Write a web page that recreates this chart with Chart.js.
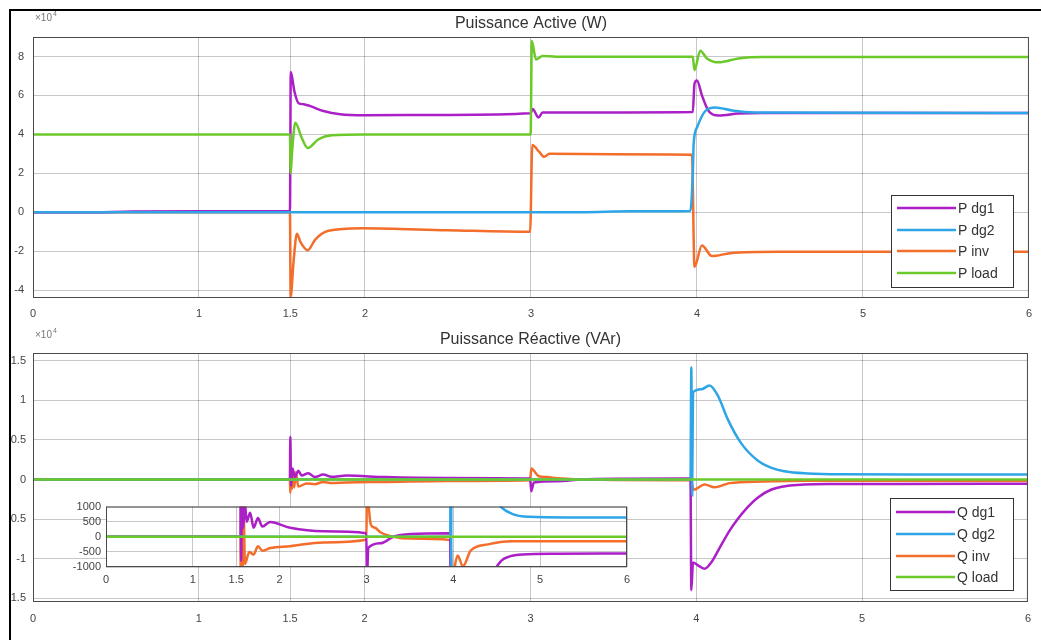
<!DOCTYPE html>
<html lang="fr">
<head>
<meta charset="UTF-8">
<title>Puissance Active / Réactive</title>
<script src="https://cdn.jsdelivr.net/npm/chart.js"></script>
<style>
    body { margin: 0; background: #fff; width: 1041px; height: 640px; overflow: hidden; position: relative; }
    canvas { position: absolute; }
    #topChart { left: 0; top: 0; }
    #botChart { left: 0; top: 320px; }
    #insetChart { left: 60px; top: 495px; }
    #edge { position: absolute; left: 0; top: 0; width: 9px; height: 640px; background: #fff; }
    #frame { position: absolute; left: 9px; top: 9px; width: 1100px; height: 700px; border-left: 2px solid #000; border-top: 2px solid #000; }
</style>
</head>
<body>
<canvas id="topChart" width="1041" height="320"></canvas>
<canvas id="botChart" width="1041" height="320"></canvas>
<canvas id="insetChart" width="580" height="100"></canvas>
<div id="edge"></div>
<div id="frame"></div>

<script>
// axes
const xTickValues = [0, 1, 1.55, 2, 3, 4, 5, 6];   // the "1.5" grid line sits at the first event
const xTickLabels = ['0', '1', '1.5', '2', '3', '4', '5', '6'];
const insetXTicks = [0, 1, 1.5, 2, 3, 4, 5, 6];
const pTicks = [-40000, -20000, 0, 20000, 40000, 60000, 80000];
const qTicks = [-15000, -10000, -5000, 0, 5000, 10000, 15000];
const insetYTicks = [-1000, -500, 0, 500, 1000];

const colors = ['#ab1fc6', '#2ea5e6', '#f36d2b', '#6cc92a'];
const drawOrder = [2, 1, 3, 0];   // lower = drawn later (on top)
const pLabels = ['P dg1', 'P dg2', 'P inv', 'P load'];
const qLabels = ['Q dg1', 'Q dg2', 'Q inv', 'Q load'];

// Puissance active (W)
const pDg1T = [0, 0.3, 0.6, 1.0, 1.548, 1.553, 1.575, 1.6, 1.63, 1.67, 1.75, 1.85, 2.0, 2.5, 2.998, 3.01, 3.045, 3.07, 3.5, 3.975, 3.985, 4.0, 4.03, 4.07, 4.13, 4.25, 4.4, 6];
const pDg1V = [0, 0, 400, 600, 600, 72000, 62000, 56000, 55500, 54500, 52000, 50300, 49800, 50000, 50800, 53000, 48700, 51200, 51300, 51500, 66000, 67700, 60000, 52000, 49700, 50700, 51000, 51000];
const pDg2T = [0, 3.3, 3.6, 3.96, 3.975, 3.98, 4.0, 4.05, 4.11, 4.21, 4.35, 6];
const pDg2V = [0, 0, 500, 700, 20000, 35000, 43500, 52000, 53800, 52300, 51300, 51000];
const pInvT = [0, 1.548, 1.552, 1.57, 1.59, 1.61, 1.655, 1.7, 1.78, 1.98, 2.5, 2.995, 3.008, 3.05, 3.08, 3.11, 3.5, 3.97, 3.985, 4.03, 4.09, 4.2, 4.5, 6];
const pInvV = [0, 0, -43500, -25000, -11000, -15000, -19500, -14000, -9500, -8200, -9200, -10000, 34500, 31000, 28500, 30000, 29800, 29600, -28000, -17000, -22500, -21000, -20300, -20300];
const pLoadT = [0, 1.548, 1.552, 1.56, 1.58, 1.62, 1.655, 1.72, 1.8, 2.0, 2.998, 3.005, 3.03, 3.07, 3.2, 3.975, 3.985, 4.02, 4.06, 4.13, 4.25, 4.4, 6];
const pLoadV = [40000, 40000, 20000, 30000, 46000, 38000, 33000, 37500, 39500, 40000, 40000, 88000, 78500, 80200, 79800, 79800, 73000, 83000, 79000, 77000, 79000, 79700, 79700];

// Puissance réactive (VAr)
const qDg1T = [0, 1.549, 1.552, 1.556, 1.565, 1.58, 1.6, 1.62, 1.66, 1.7, 1.75, 1.8, 1.89, 2.12, 2.5, 2.998, 3.005, 3.02, 3.16, 3.31, 3.51, 3.965, 3.97, 3.98, 4.02, 4.05, 4.09, 4.15, 4.2, 4.25, 4.31, 4.37, 4.45, 4.55, 4.65, 4.8, 5.2, 6];
const qDg1V = [0, 0, 5400, -800, 1400, 300, 1100, 500, 800, 300, 620, 340, 490, 300, 185, 120, -1500, -370, -215, 0, 90, 120, -14000, -10500, -11000, -11300, -10500, -8300, -6500, -5000, -3500, -2300, -1300, -800, -650, -585, -560, -550];
const qDg2T = [0, 3.965, 3.97, 3.975, 3.98, 4.03, 4.08, 4.13, 4.19, 4.27, 4.37, 4.45, 4.53, 4.67, 4.87, 5.3, 6];
const qDg2V = [0, 0, 14200, -2000, 11000, 11400, 11900, 10600, 7600, 4600, 2400, 1500, 1050, 770, 660, 640, 640];
const qInvT = [0, 1.549, 1.552, 1.556, 1.562, 1.568, 1.575, 1.585, 1.6, 1.65, 1.7, 1.75, 1.8, 1.89, 2.12, 2.5, 2.998, 3.005, 3.05, 3.1, 3.16, 3.31, 3.51, 3.965, 3.985, 4.05, 4.11, 4.2, 4.4, 4.67, 6];
const qInvV = [0, 0, -1700, 1500, -1200, 1100, -1000, 900, -900, -500, -590, -310, -460, -370, -310, -185, -100, 1400, 400, 300, 150, 0, -60, -110, -1300, -620, -980, -460, -250, -150, -150];
const qLoadT = [0, 6];
const qLoadV = [0, 0];

const pSeries = [[pDg1T, pDg1V], [pDg2T, pDg2V], [pInvT, pInvV], [pLoadT, pLoadV]];
const qSeries = [[qDg1T, qDg1V], [qDg2T, qDg2V], [qInvT, qInvV], [qLoadT, qLoadV]];

const FONT = '"Liberation Sans", Arial, sans-serif';
Chart.defaults.font.family = FONT;
Chart.defaults.color = '#444';

function toPoints(t, v) {
    return t.map((x, i) => ({ x: x, y: v[i] }));
}

function makeDatasets(series, labels, width) {
    return series.map((s, i) => ({
        label: labels[i],
        data: toPoints(s[0], s[1]),
        borderColor: colors[i],
        backgroundColor: colors[i],
        borderWidth: width,
        pointRadius: 0,
        cubicInterpolationMode: 'monotone',
        order: drawOrder[i]
    }));
}

// box around the axes, titles, x10^4, legend
const panelDeco = {
    id: 'panelDeco',
    beforeDraw(chart, args, o) {
        if (o.fillArea) {
            const a = chart.chartArea;
            chart.ctx.save();
            chart.ctx.fillStyle = '#fff';
            chart.ctx.fillRect(a.left, a.top, a.right - a.left, a.bottom - a.top);
            chart.ctx.restore();
        }
    },
    afterDraw(chart, args, o) {
        const ctx = chart.ctx, a = chart.chartArea;
        ctx.save();
        ctx.strokeStyle = '#4a4a4a';
        ctx.lineWidth = 1;
        ctx.strokeRect(a.left + 0.5, a.top + 0.5, a.right - a.left - 1, a.bottom - a.top - 1);

        if (o.title) {
            ctx.fillStyle = '#333';
            ctx.font = '16px ' + FONT;
            ctx.textAlign = 'center';
            ctx.textBaseline = 'middle';
            ctx.fillText(o.title, (a.left + a.right) / 2, o.titleY);
            ctx.fillStyle = '#777';
            ctx.textAlign = 'left';
            ctx.font = '10px ' + FONT;
            ctx.fillText('×10', a.left + 2, o.expY);
            ctx.font = '7px ' + FONT;
            ctx.fillText('4', a.left + 20, o.expY - 4);
        }

        if (o.legend) {
            const L = o.legend;
            ctx.fillStyle = '#fff';
            ctx.fillRect(L.x, L.y, L.w, L.h);
            ctx.strokeStyle = '#333';
            ctx.strokeRect(L.x + 0.5, L.y + 0.5, L.w, L.h);
            ctx.font = '14px ' + FONT;
            ctx.textAlign = 'left';
            ctx.textBaseline = 'middle';
            chart.data.datasets.forEach((ds, i) => {
                const y = L.y + L.rows[i];
                ctx.strokeStyle = ds.borderColor;
                ctx.lineWidth = 2.5;
                ctx.beginPath();
                ctx.moveTo(L.x + 6, y);
                ctx.lineTo(L.x + 65, y);
                ctx.stroke();
                ctx.fillStyle = '#333';
                ctx.fillText(ds.label, L.x + 67, y + 1);
            });
        }
        ctx.restore();
    }
};

function panelOptions(cfg) {
    return {
        responsive: false,
        animation: false,
        events: [],
        layout: { padding: cfg.padding },
        plugins: {
            legend: { display: false },
            tooltip: { enabled: false },
            panelDeco: cfg.deco
        },
        scales: {
            x: {
                type: 'linear', min: 0, max: 6,
                afterBuildTicks: axis => { axis.ticks = cfg.xTicks.map(v => ({ value: v })); },
                afterFit: scale => { scale.height = cfg.xHeight; },
                grid: { color: 'rgba(0,0,0,0.22)', drawTicks: false },
                border: { display: false },
                ticks: {
                    autoSkip: false, maxRotation: 0, padding: cfg.xPad,
                    font: { size: cfg.tickSize },
                    callback: (v, i) => cfg.xLabels[i]
                }
            },
            y: {
                min: cfg.yMin, max: cfg.yMax,
                afterBuildTicks: axis => { axis.ticks = cfg.yTicks.map(v => ({ value: v })); },
                afterFit: scale => { scale.width = cfg.yWidth; },
                grid: { color: 'rgba(0,0,0,0.22)', drawTicks: false },
                border: { display: false },
                ticks: {
                    autoSkip: false,
                    padding: cfg.yPad,
                    font: { size: cfg.tickSize },
                    callback: v => String(v / cfg.yDiv)
                }
            }
        }
    };
}

new Chart(document.getElementById('topChart'), {
    type: 'line',
    data: { datasets: makeDatasets(pSeries, pLabels, 2.5) },
    options: panelOptions({
        padding: { top: 37, right: 11, left: 0, bottom: 0 },
        xTicks: xTickValues, xLabels: xTickLabels, xHeight: 22, xPad: 9,
        yMin: -44000, yMax: 90000, yTicks: pTicks, yWidth: 33, yPad: 9, yDiv: 1e4,
        tickSize: 11,
        deco: {
            title: 'Puissance Active (W)', titleY: 24, expY: 18,
            legend: { x: 891, y: 195, w: 122, h: 92, rows: [13, 35, 56, 78] }
        }
    }),
    plugins: [panelDeco]
});

new Chart(document.getElementById('botChart'), {
    type: 'line',
    data: { datasets: makeDatasets(qSeries, qLabels, 2.5) },
    options: panelOptions({
        padding: { top: 33, right: 11, left: 0, bottom: 0 },
        xTicks: xTickValues, xLabels: xTickLabels, xHeight: 38, xPad: 10,
        yMin: -15500, yMax: 16000, yTicks: qTicks, yWidth: 33, yPad: 7, yDiv: 1e4,
        tickSize: 11,
        deco: {
            title: 'Puissance Réactive (VAr)', titleY: 20, expY: 15,
            legend: { x: 890, y: 178, w: 123, h: 92, rows: [14, 36, 58, 79] }
        }
    }),
    plugins: [panelDeco]
});

// zoom on +-1000 VAr
new Chart(document.getElementById('insetChart'), {
    type: 'line',
    data: { datasets: makeDatasets(qSeries, qLabels, 2.5) },
    options: panelOptions({
        padding: { top: 6, right: 13, left: 0, bottom: 0 },
        xTicks: insetXTicks, xLabels: insetXTicks.map(String), xHeight: 28, xPad: 6,
        yMin: -1000, yMax: 1000, yTicks: insetYTicks, yWidth: 46, yPad: 5, yDiv: 1,
        tickSize: 11,
        deco: { fillArea: true }
    }),
    plugins: [panelDeco]
});
</script>
</body>
</html>
